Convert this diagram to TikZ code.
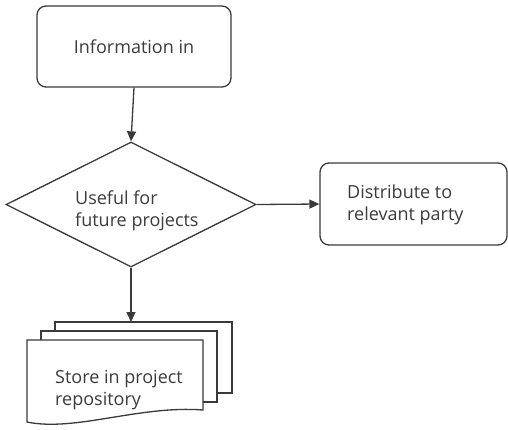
\documentclass[tikz,border=0pt]{standalone}
\usepackage{fontspec}
\setmainfont{Open Sans}
\usetikzlibrary{arrows.meta,shapes.geometric}
\definecolor{ln}{HTML}{3A3A3A}
\definecolor{tx}{HTML}{3C3C3C}
\tikzset{
  shape line/.style={draw=ln, line width=1.3pt, fill=white},
  rbox/.style={shape line, rounded corners=9pt, inner sep=0pt},
  lbl/.style={text=tx, font=\fontsize{18}{22}\selectfont, inner sep=0pt},
  conn/.style={draw=ln, line width=1.3pt, -{Triangle[length=10pt,width=9pt]}},
}
\begin{document}
\begin{tikzpicture}[x=1pt,y=-1pt]
\useasboundingbox (0,0) rectangle (508,429);
% Information box
\node[rbox, minimum width=194pt, minimum height=81pt] (info) at (134,46.5) {};
\node[lbl, anchor=base] (infot) at (134,53) {Information in};
% Decision
\node[shape line, diamond, inner sep=0pt, minimum width=250pt, minimum height=125pt] (dec) at (131,204.5) {};
\node[lbl, anchor=base west] (dect1) at (75,204) {Useful for};
\node[lbl, anchor=base west] (dect2) at (75,226) {future projects};
% Distribute box
\node[rbox, minimum width=187pt, minimum height=82pt] (dist) at (413.5,204) {};
\node[lbl, anchor=base west] (distt1) at (347,198) {Distribute to};
\node[lbl, anchor=base west] (distt2) at (347,220) {relevant party};
% Documents stack
\path[shape line] (55,322) rectangle (232,393);
\path[shape line] (41,331) rectangle (217,402);
\path[shape line] (27,340) -- (203,340) -- (203,410) .. controls (140,405) and (75,432) .. (27,422) -- cycle;
\coordinate (doctop) at (131,322);
\node[lbl, anchor=base west] (doct1) at (55,383) {Store in project};
\node[lbl, anchor=base west] (doct2) at (55,405) {repository};
% connectors
\draw[conn] (info.south) -- (dec.north);
\draw[conn] (dec.east) -- (dist.west);
\draw[conn] (dec.south) -- (doctop);
\end{tikzpicture}
\end{document}
